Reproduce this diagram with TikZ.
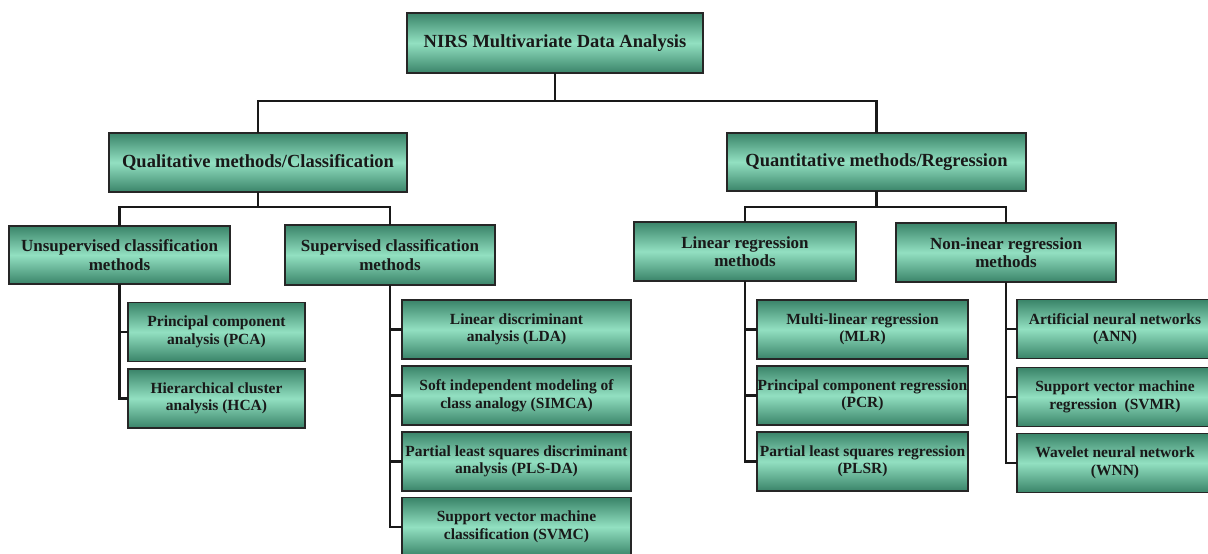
\documentclass[tikz,border=0pt]{standalone}
\usepackage{fontspec}
\setmainfont{Liberation Serif}

\begin{document}
\begin{tikzpicture}[x=1pt, y=-1pt,
    inner sep=0pt, outer sep=0pt,%
    box/.style={draw=black!85, line width=1.4pt,
        top color=boxdark, bottom color=boxdark, middle color=boxlight,
        align=center, text=black!90, font=\bfseries#1},
    head/.style={box=\fontsize{18.5}{21}\selectfont},
    group/.style={box=\fontsize{17}{18.5}\selectfont},
    leaf/.style={box=\fontsize{15.5}{17.5}\selectfont,
        minimum width=#1, minimum height=59},
    link/.style={line width=2.6pt, black!90},
]
    % Colors
    \definecolor{boxdark}{RGB}{58,132,105}
    \definecolor{boxlight}{RGB}{146,224,193}

    % Frame
    \useasboundingbox (0,0) rectangle (1208,554);

    % Top levels
    \node[head, minimum width=296, minimum height=60] (nirs) at (555,43)
        {NIRS Multivariate Data Analysis};
    \node[head, minimum width=298, minimum height=59] (qual) at (258,162.5)
        {Qualitative methods/Classification};
    \node[head, minimum width=299, minimum height=58] (quan) at (876.5,162)
        {Quantitative methods/Regression};

    % Method groups
    \node[group, minimum width=221, minimum height=58] (unsup) at (119.5,255)
        {Unsupervised classification\\methods};
    \node[group, minimum width=210, minimum height=60] (sup) at (390,255)
        {Supervised classification\\methods};
    \node[group, minimum width=222, minimum height=59] (lin) at (745,251.5)
        {Linear regression\\methods};
    \node[group, minimum width=220, minimum height=59] (nonlin) at (1006,252.5)
        {Non-inear regression\\methods};

    % Unsupervised
    \node[leaf=177] (pca) at (216.5,332)   {Principal component\\analysis (PCA)};
    \node[leaf=177] (hca) at (216.5,398.5) {Hierarchical cluster\\analysis (HCA)};

    % Supervised
    \node[leaf=229] (lda)   at (516.5,329.5) {Linear discriminant\\analysis (LDA)};
    \node[leaf=229] (simca) at (516.5,395.5) {Soft independent modeling of\\class analogy (SIMCA)};
    \node[leaf=229] (plsda) at (516.5,461.5) {Partial least squares discriminant\\analysis (PLS-DA)};
    \node[leaf=229] (svmc)  at (516.5,527)   {Support vector machine\\classification (SVMC)};

    % Linear regression
    \node[leaf=211] (mlr)  at (862.5,329.5) {Multi-linear regression\\(MLR)};
    \node[leaf=211] (pcr)  at (862.5,395.5) {Principal component regression\\(PCR)};
    \node[leaf=211] (plsr) at (862.5,461.5) {Partial least squares regression\\(PLSR)};

    % Non-linear regression
    \node[leaf=196] (ann)  at (1115,329)   {Artificial neural networks\\(ANN)};
    \node[leaf=196] (svmr) at (1115,397)   {Support vector machine\\regression~~(SVMR)};
    \node[leaf=196] (wnn)  at (1115,463)   {Wavelet neural network\\(WNN)};

    % Connectors
    \draw[link] (nirs.south) -- ++(0,28) -| (qual.north);
    \draw[link] (nirs.south) -- ++(0,28) -| (quan.north);
    \draw[link] (qual.south) -- ++(0,15) -| (unsup.north);
    \draw[link] (qual.south) -- ++(0,15) -| (sup.north);
    \draw[link] (quan.south) -- ++(0,16) -| (lin.north);
    \draw[link] (quan.south) -- ++(0,16) -| (nonlin.north);

    \foreach \leaf in {pca,hca}
        \draw[link] (unsup.south) |- (\leaf.west);
    \foreach \leaf in {lda,simca,plsda,svmc}
        \draw[link] (sup.south) |- (\leaf.west);
    \foreach \leaf in {mlr,pcr,plsr}
        \draw[link] (lin.south) |- (\leaf.west);
    \foreach \leaf in {ann,svmr,wnn}
        \draw[link] (nonlin.south) |- (\leaf.west);
\end{tikzpicture}
\end{document}
